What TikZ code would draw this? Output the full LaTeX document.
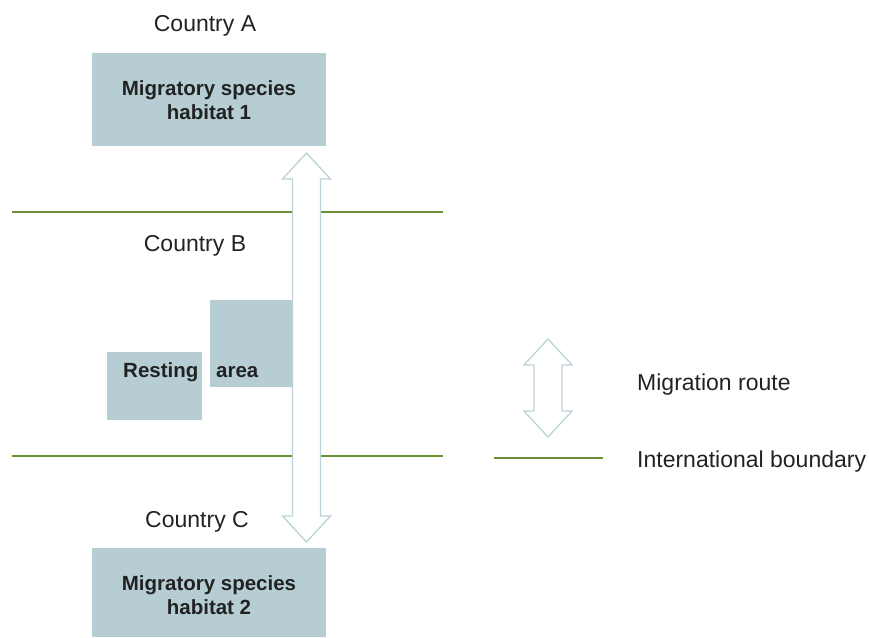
\documentclass[tikz,border=0pt]{standalone}
\usepackage{fontspec}
\setmainfont{Liberation Sans}
\usetikzlibrary{calc}
\definecolor{habitat}{HTML}{B6CDD3}
\definecolor{routeline}{HTML}{BCD2D8}
\definecolor{border}{HTML}{6A8F35}
\definecolor{ink}{HTML}{222222}
% hollow double arrow between two named tips
\newcommand{\routearrow}[2]{%
  \draw[route] (#1) -- ($(#1)+(24,26)$) -- ($(#1)+(14,26)$) -- ($(#2)+(14,-26)$)
    -- ($(#2)+(24,-26)$) -- (#2) -- ($(#2)+(-24,-26)$) -- ($(#2)+(-14,-26)$)
    -- ($(#1)+(-14,26)$) -- ($(#1)+(-24,26)$) -- cycle;}
\begin{document}
\begin{tikzpicture}[x=1pt,y=-1pt,
    box/.style={fill=habitat, inner sep=0pt, anchor=north west},
    plain/.style={font=\fontsize{23}{27}\selectfont, text=ink, inner sep=0pt, anchor=base},
    heavy/.style={font=\fontsize{20.5}{24}\selectfont\bfseries, text=ink, inner sep=0pt, anchor=base},
    route/.style={draw=routeline, line width=1.3pt, fill=white, line join=miter},
    boundary/.style={draw=border, line width=2.8pt}]
    \useasboundingbox (0,0) rectangle (869,637);

    % habitats and resting area
    \node[box, minimum width=234pt, minimum height=93pt] (hab1) at (92,53) {};
    \node[box, minimum width=234pt, minimum height=89pt] (hab2) at (92,548) {};
    \node[box, minimum width=95pt, minimum height=68pt] (rest) at (107,352) {};
    \node[box, minimum width=82pt, minimum height=87pt] (area) at (210,300) {};

    \node[heavy] (hab1top) at (209,95) {Migratory species};
    \node[heavy] (hab1bot) at (209,119) {habitat 1};
    \node[heavy] (hab2top) at (209,590) {Migratory species};
    \node[heavy] (hab2bot) at (209,614) {habitat 2};
    \node[heavy, anchor=base west] (resttext) at (123,377) {Resting};
    \node[heavy, anchor=base west] (areatext) at (216,377) {area};

    \node[plain] (countryA) at (205,31) {Country A};
    \node[plain] (countryB) at (195,251) {Country B};
    \node[plain] (countryC) at (197,527) {Country C};

    % boundaries
    \coordinate (ABleft) at (12,212);
    \coordinate (ABright) at (443,212);
    \coordinate (BCleft) at (12,456);
    \coordinate (BCright) at (443,456);
    \draw[boundary] (ABleft) -- (ABright);
    \draw[boundary] (BCleft) -- (BCright);

    % migration route
    \coordinate (routeup) at (306.5,153);
    \coordinate (routedown) at (306.5,542);
    \routearrow{routeup}{routedown}

    % legend
    \coordinate (keyup) at (548,339);
    \coordinate (keydown) at (548,437);
    \routearrow{keyup}{keydown}
    \coordinate (keyleft) at (494,458);
    \coordinate (keyright) at (603,458);
    \draw[boundary] (keyleft) -- (keyright);
    \node[plain, anchor=base west] (routekey) at (637,390) {Migration route};
    \node[plain, anchor=base west] (boundkey) at (637,467) {International boundary};
\end{tikzpicture}
\end{document}
